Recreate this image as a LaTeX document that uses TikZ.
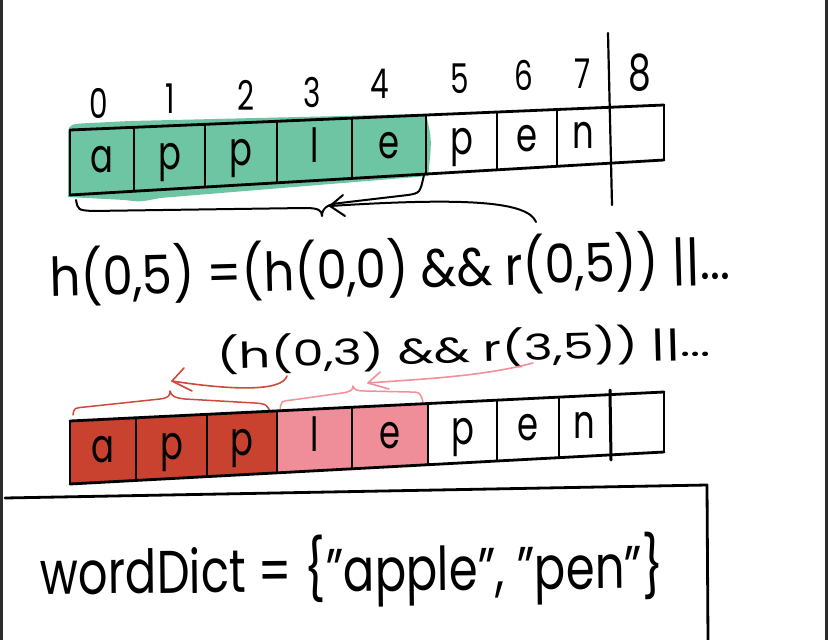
\documentclass[tikz,border=0pt]{standalone}
\usepackage{fontspec}
\setmainfont{Poppins}
\usetikzlibrary{arrows.meta}
\definecolor{cgreen}{HTML}{6DC5A3}
\definecolor{cred}{HTML}{C9412F}
\definecolor{cpink}{HTML}{EF8D98}
\definecolor{credline}{HTML}{CC4A3A}
\definecolor{cpinkline}{HTML}{F29099}
\definecolor{cborder}{HTML}{2B2B2B}
\newcommand\narrowtxt[1]{\scalebox{0.72}[1]{#1}}
\tikzset{
  ink/.style={line width=2.8pt, line cap=round, line join=round},
  sepline/.style={line width=2.2pt, line cap=round},
  cellchar/.style={anchor=base, inner sep=0pt, font=\fontsize{47}{47}\selectfont},
  digit/.style={anchor=base, inner sep=0pt, font=\fontsize{41}{41}\selectfont},
  hand/.style={inner sep=0pt},
  blackarrow/.style={line width=2pt, line cap=round, line join=round},
  redarrow/.style={line width=1.6pt, line cap=round, line join=round, draw=credline},
  pinkarrow/.style={line width=1.6pt, line cap=round, line join=round, draw=cpinkline},
  bracepath/.style={line width=2pt, line cap=round, line join=round},
}
\begin{document}
\begin{tikzpicture}[x=1pt,y=-1pt]
\useasboundingbox (0,0) rectangle (828,640);
\fill[white] (0,0) rectangle (828,640);
\fill[cborder] (0,0) rectangle (3,640);
\fill[cborder] (825,0) rectangle (828,640);

% ---------- top array ----------
\fill[cgreen] (68,132) .. controls (70,124) .. (90,123) -- (130,121) -- (426,114)
  .. controls (432,140) .. (428,176) -- (160,198) .. controls (140,202) .. (125,200) -- (68,197) -- cycle;
\draw[ink] (70,130) -- (664,105);
\draw[ink] (70,195) -- (664,160);
\foreach \x in {70,134,205,277,352,426,497,557,664} {
  \pgfmathsetmacro\yt{130-(\x-70)/594*25}
  \pgfmathsetmacro\yb{195-(\x-70)/594*35}
  \draw[sepline] (\x,\yt) -- (\x,\yb);
}
\draw[line width=2.2pt, line cap=round] (608,33) -- (612,205);
\foreach \l/\r/\c [count=\i from 0] in {70/134/a,134/205/p,205/277/p,277/352/l,352/426/e,426/497/p,497/557/e,557/610/n} {
  \pgfmathsetmacro\xc{(\l+\r)/2}
  \pgfmathsetmacro\yc{(130-(\xc-70)/594*25 + 195-(\xc-70)/594*35)/2+12}
  \node[cellchar] (t\i) at (\xc,\yc) {\narrowtxt{\c}};
}
% indices
\node[digit] (n0) at (99,118) {\narrowtxt{0}};
\node[digit] (n1) at (170,113) {\narrowtxt{1}};
\node[digit] (n2) at (246,110) {\narrowtxt{2}};
\node[digit] (n3) at (312,107) {\narrowtxt{3}};
\node[digit] (n4) at (380,98) {\narrowtxt{4}};
\node[digit] (n5) at (460,93) {\narrowtxt{5}};
\node[digit] (n6) at (524,90) {\narrowtxt{6}};
\node[digit] (n7) at (583,88) {\narrowtxt{7}};
\node[digit, font=\fontsize{50}{50}\selectfont] (n8) at (640,90) {\narrowtxt{8}};

% brace under cells 0-4 and arrow
\draw[bracepath] (76,200) .. controls (78,210) .. (92,211) -- (305,208)
  .. controls (318,208) and (322,210) .. (322,216)
  .. controls (322,208) and (328,204) .. (340,203) -- (408,195) .. controls (420,193) .. (424,175);
\coordinate (arrA) at (536,222);
\coordinate (arrAend) at (330,206);
\draw[blackarrow] (arrA) .. controls (528,202) and (470,197) .. (arrAend);
\draw[blackarrow] (343,195) -- (arrAend) -- (345,216);

% ---------- formulas ----------
\node[hand, rotate=1.5] (eq1) at (390,268) {\resizebox*{680pt}{60pt}{h(0,5) =(h(0,0) \&\& r(0,5)) ||...}};
\node[hand, rotate=1.5] (eq2) at (464,349) {\resizebox*{494pt}{40pt}{(h(0,3) \&\& r(3,5)) ||...}};

% red / pink arrows
\coordinate (redEnd) at (172,381);
\coordinate (pinkEnd) at (368,383);
\draw[redarrow] (287,376) .. controls (282,392) and (230,390) .. (redEnd);
\draw[redarrow] (184,368) -- (redEnd) -- (192,391);
\draw[pinkarrow] (533,363) .. controls (480,377) and (420,379) .. (pinkEnd);
\draw[pinkarrow] (380,372) -- (pinkEnd) -- (389,389);

% red brace over cells 0-2
\draw[bracepath, line width=1.5pt, draw=credline] (73,415) .. controls (74,408) .. (85,407) -- (160,399)
  .. controls (168,398) and (170,396) .. (170,391)
  .. controls (171,396) and (175,398) .. (185,399) -- (255,403) .. controls (266,404) .. (270,411);
% pink brace over cells 3-4
\draw[bracepath, line width=1.5pt, draw=cpinkline] (280,411) .. controls (281,401) .. (292,400) -- (342,393)
  .. controls (350,392) and (353,390) .. (353,386)
  .. controls (354,390) and (357,391) .. (365,391) -- (410,392) .. controls (420,392) .. (423,402);

% ---------- bottom array ----------
\fill[cred] (70,421) -- (277,410.9) -- (277,472.8) -- (70,485) -- cycle;
\fill[cpink] (277,410.9) -- (427.6,403.5) -- (427.6,464.7) -- (277,472.8) -- cycle;
\draw[ink] (70,421) -- (664,392);
\draw[ink] (70,484) -- (664,452);
\foreach \x in {70,136,207,277,352,428,497,559,664} {
  \pgfmathsetmacro\yt{421-(\x-70)/594*29}
  \pgfmathsetmacro\yb{484-(\x-70)/594*32}
  \draw[sepline] (\x,\yt) -- (\x,\yb);
}
\draw[line width=3pt, line cap=round] (610,390) -- (611,460);
\foreach \l/\r/\c [count=\i from 0] in {70/136/a,136/207/p,207/277/p,277/352/l,352/428/e,428/497/p,497/559/e,559/610/n} {
  \pgfmathsetmacro\xc{(\l+\r)/2}
  \pgfmathsetmacro\yc{(421-(\xc-70)/594*29 + 484-(\xc-70)/594*32)/2+12}
  \node[cellchar] (b\i) at (\xc,\yc) {\narrowtxt{\c}};
}

% ---------- dictionary box ----------
\coordinate (boxL) at (5,498);
\coordinate (boxC) at (707,485);
\coordinate (boxB) at (708,640);
\draw[ink] (boxL) -- (boxC) -- (boxB);
\node[hand, rotate=0.6] (dict) at (352,571) {\resizebox*{623pt}{72pt}{wordDict = \{"apple", "pen"\}}};
\end{tikzpicture}
\end{document}
